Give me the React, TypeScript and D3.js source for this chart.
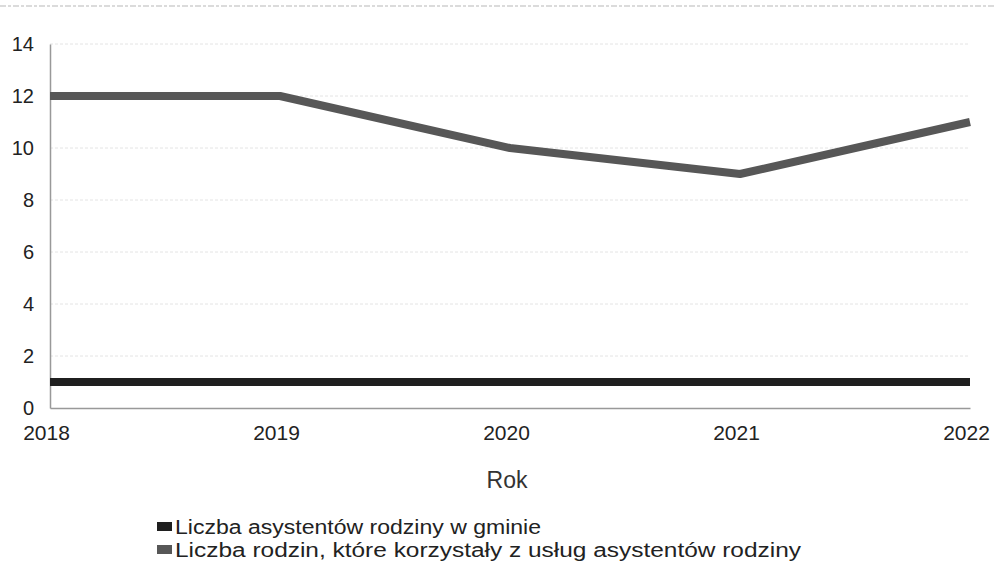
import { useEffect, useRef } from 'react'
import { axisBottom, axisLeft, line, scaleLinear, select } from 'd3'

const years = [2018, 2019, 2020, 2021, 2022]
const assistants = [1, 1, 1, 1, 1]
const families = [12, 12, 10, 9, 11]
const yTicks = [0, 2, 4, 6, 8, 10, 12, 14]
const seriesNames = ['Liczba asystentów rodziny w gminie', 'Liczba rodzin, które korzystały z usług asystentów rodziny']
const seriesColors = ['#1f1f1f', '#575757']
const legendWidths = [366, 626]

export default function App() {
  const ref = useRef<SVGSVGElement>(null)

  useEffect(() => {
    if (!ref.current) return
    const svg = select(ref.current)
    svg.selectAll('*').remove()
    const font = 'Liberation Sans, Arial, sans-serif'

    const x = scaleLinear().domain([2018, 2022]).range([50, 970])
    const y = scaleLinear().domain([0, 14]).range([408, 44])

    // faint scan line at the very top
    svg.append('line').attr('x1', 0).attr('x2', 996).attr('y1', 6).attr('y2', 6)
      .attr('stroke', '#cfcfcf').attr('stroke-width', 1.5).attr('stroke-dasharray', '6 2 3 2')

    // grid
    svg.append('g').selectAll('line').data(yTicks.slice(1)).join('line')
      .attr('x1', 50).attr('x2', 970)
      .attr('y1', (d) => y(d)).attr('y2', (d) => y(d))
      .attr('stroke', '#e4e4e4').attr('stroke-width', 1).attr('stroke-dasharray', '3 2')

    const yAxis = svg.append('g').attr('transform', 'translate(50,0)')
      .call(axisLeft(y).tickValues(yTicks).tickSize(0).tickPadding(16))
    yAxis.select('.domain').attr('stroke', '#999').attr('stroke-width', 1.5)
    yAxis.selectAll('text').attr('font-family', font).attr('font-size', 20).attr('fill', '#222')

    const xAxis = svg.append('g').attr('transform', 'translate(0,408)')
      .call(axisBottom(x).tickValues(years).tickFormat((d) => String(d)).tickSize(0).tickPadding(17))
    xAxis.select('.domain').attr('stroke', '#999').attr('stroke-width', 1.5)
    xAxis.selectAll('text').attr('font-family', font).attr('font-size', 21).attr('fill', '#222').attr('dx', -4)

    svg.append('text').attr('x', 507).attr('y', 488).attr('text-anchor', 'middle')
      .attr('font-family', font).attr('font-size', 23).attr('fill', '#333').text('Rok')

    const gen = line<number>().x((_, i) => x(years[i])).y((d) => y(d))
    ;[assistants, families].forEach((s, i) => {
      svg.append('path').datum(s).attr('d', gen).attr('fill', 'none')
        .attr('stroke', seriesColors[i]).attr('stroke-width', 8).attr('stroke-linejoin', 'round')
    })

    const legend = svg.append('g').selectAll('g').data(seriesNames).join('g')
      .attr('transform', (_, i) => `translate(157,${527 + i * 23})`)
    legend.append('rect').attr('x', 0).attr('y', -5).attr('width', 15).attr('height', 9)
      .attr('fill', (_, i) => seriesColors[i])
    legend.append('text').attr('x', 18).attr('y', 0).attr('dy', '0.35em')
      .attr('font-family', font).attr('font-size', 20).attr('fill', '#222')
      .attr('textLength', (_, i) => legendWidths[i]).attr('lengthAdjust', 'spacingAndGlyphs')
      .text((d) => d)
  }, [])

  return <svg ref={ref} width={996} height={564} style={{ position: 'absolute', left: 0, top: 0, background: '#fff' }} />
}
